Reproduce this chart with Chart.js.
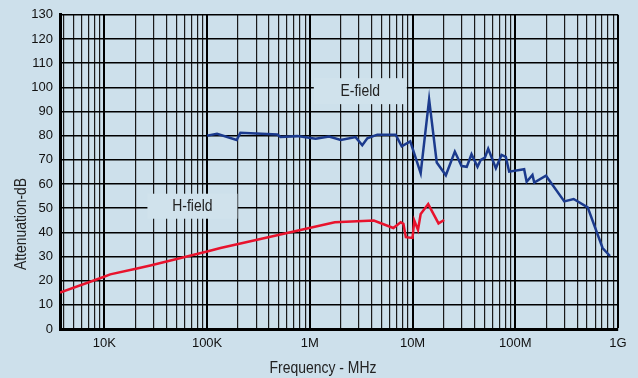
<!DOCTYPE html>
<html>
<head>
<meta charset="utf-8">
<script src="https://cdn.jsdelivr.net/npm/chart.js@4/dist/chart.umd.min.js"></script>
<style>
html, body { margin:0; padding:0; background:#cde0eb; }
#wrap { width:638px; height:378px; }
</style>
</head>
<body>
<div id="wrap"><canvas id="shieldChart" width="638" height="378"></canvas></div>
<script>
// E-field attenuation (Hz, dB)
const eFreq = [100e3,125e3,194e3,211e3,482e3,519e3,755e3,1.14e6,1.54e6,2.0e6,2.79e6,3.24e6,3.63e6,4.54e6,6.85e6,7.84e6,9.5e6,12.0e6,14.5e6,17.2e6,21.1e6,25.8e6,30e6,33.7e6,37.5e6,42.9e6,46.2e6,50.6e6,54.5e6,64.7e6,73.5e6,80.9e6,87.2e6,122e6,129e6,147e6,153e6,199e6,300e6,370e6,507e6,708e6,835e6];
const eVal  = [80,80.8,78.2,81.2,80.5,79.4,79.8,78.7,79.6,78.2,79.4,76,78.9,80.4,80.4,75.6,77.6,64.5,95,68.9,63.6,73.4,67.4,67.1,72.3,67.1,70,70.9,74.6,66.5,72,71.2,65.1,66.1,60.9,63.7,60.6,63.4,52.8,53.8,50.3,33.5,30.2];

// H-field attenuation (Hz, dB)
const hFreq = [3.7e3,9.8e3,11.4e3,20.8e3,28e3,100e3,135e3,1.75e6,4.2e6,6.5e6,7.67e6,8.15e6,8.6e6,10e6,10.4e6,11.3e6,12e6,14.2e6,17.9e6,20.3e6];
const hVal  = [15.1,21.5,22.6,25,26.3,32.1,33.5,44.2,44.9,41.8,44.2,43.5,38,37.7,44.9,41,47.6,51.7,43.7,45.1];

const xTickValues = [1e4,1e5,1e6,1e7,1e8,1e9];
const xTickLabels = ['10K','100K','1M','10M','100M','1G'];

const seriesNames = ['E-field','H-field'];
const labelAt = [[3.1e6,98.4],[72e3,50.8]];

const yTitle = 'Attenuation-dB';
const xTitle = 'Frequency - MHz';

function isDecade(v){
  const l = Math.log10(v);
  return Math.abs(l - Math.round(l)) < 1e-9;
}

// narrow text: Liberation Sans squeezed horizontally
function narrowText(c, txt, x, y, rot){
  c.save();
  c.translate(x, y);
  if (rot) c.rotate(rot);
  c.scale(0.82, 1);
  c.font = '17px "Liberation Sans", Arial, sans-serif';
  c.fillStyle = '#222';
  c.textAlign = 'center';
  c.textBaseline = 'middle';
  c.fillText(txt, 0, 0);
  c.restore();
}

const fieldLabels = {
  id:'fieldLabels',
  beforeDatasetsDraw(chart){
    const c = chart.ctx, xs = chart.scales.x, ys = chart.scales.y;
    const sizes = [[93,26],[90,25]];
    seriesNames.forEach((name,i) => {
      const px = xs.getPixelForValue(labelAt[i][0]);
      const py = ys.getPixelForValue(labelAt[i][1]);
      c.fillStyle = '#d0e2ec';
      c.fillRect(px - sizes[i][0]/2, py - sizes[i][1]/2, sizes[i][0], sizes[i][1]);
      narrowText(c, name, px, py);
    });
  },
  afterDraw(chart){
    narrowText(chart.ctx, xTitle, 323, 368);
    narrowText(chart.ctx, yTitle, 21, 224, -Math.PI/2);
  }
};

new Chart(
document.getElementById('shieldChart'),
{
type:'line',
data:{
  datasets:[
    {
      label:'E-field',
      data:eFreq.map((f,i) => ({x:f, y:eVal[i]})),
      borderColor:'#1b3a8d',
      borderWidth:2.5,
      pointRadius:0,
      tension:0
    },
    {
      label:'H-field',
      data:hFreq.map((f,i) => ({x:f, y:hVal[i]})),
      borderColor:'#e8132d',
      borderWidth:2.5,
      pointRadius:0,
      tension:0
    }
  ]
},
options:{
  responsive:false,
  animation:false,
  devicePixelRatio:1,
  layout:{ padding:{ top:13, right:20, left:0, bottom:0 } },
  plugins:{ legend:{ display:false }, tooltip:{ enabled:false } },
  scales:{
    x:{
      type:'logarithmic',
      min:3700,
      max:1e9,
      afterFit(s){ s.height = 49; },
      afterBuildTicks(s){
        const t = [];
        for (let e = 3; e <= 9; e++) {
          for (let m = 1; m <= 9; m++) {
            const v = m * Math.pow(10, e);
            if (v >= s.min && v <= s.max) t.push({value:v});
          }
        }
        s.ticks = t;
      },
      ticks:{
        autoSkip:false,
        maxRotation:0,
        padding:7,
        color:'#111',
        font:{ family:'"Liberation Sans", Arial, sans-serif', size:13 },
        callback(v){
          const k = xTickValues.findIndex(d => Math.abs(d - v) / d < 1e-6);
          return k >= 0 ? xTickLabels[k] : '';
        }
      },
      grid:{
        drawTicks:false,
        color:ctx => ctx.tick && isDecade(ctx.tick.value) ? '#000' : '#1a1a1a',
        lineWidth:ctx => ctx.tick && isDecade(ctx.tick.value) ? 2 : 1.2
      },
      border:{ display:true, color:'#000', width:3 }
    },
    y:{
      min:0,
      max:130,
      afterFit(s){ s.width = 60; },
      ticks:{
        stepSize:10,
        padding:7,
        color:'#111',
        font:{ family:'"Liberation Sans", Arial, sans-serif', size:13 }
      },
      grid:{ drawTicks:false, color:'#000', lineWidth:1.5 },
      border:{ display:true, color:'#000', width:3 }
    }
  }
},
plugins:[fieldLabels]
});
</script>
</body>
</html>
